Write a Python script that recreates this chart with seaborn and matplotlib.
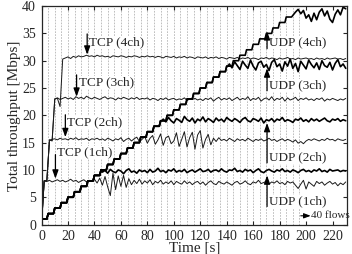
import numpy as np
import matplotlib
matplotlib.use("Agg")
import matplotlib.pyplot as plt
import seaborn as sns

# time axis of the sampled throughput (every 2 s)
t_sec = np.arange(0, 231, 2)
# one new UDP flow every 5 s (40 flows)
flow_start = np.arange(0, 200, 5)
# throughput of the UDP ramp while no channel is saturated [Mbps]
step_vals = [1.0, 2.0, 3.0, 4.0, 5.0, 6.0, 7.0, 8.0, 9.0, 10.0,
             11.0, 12.0, 13.0, 14.0, 15.0, 16.0, 17.0, 18.0, 19.0, 20.0,
             21.0, 22.0, 23.0, 24.0, 25.0, 26.0, 27.0, 28.0, 29.0, 30.0,
             31.0, 32.0, 33.0, 34.0, 35.0, 36.0, 37.0, 38.0, 39.0, 40.0]

tcp_4ch = [0.0, 8.0, 8.0, 15.5, 15.4, 23.0, 23.1, 21.6, 30.3, 30.5, 30.7, 30.4, 30.8, 30.6, 30.9, 30.7, 30.8, 31.0, 30.8, 30.9,
           30.7, 31.0, 30.8, 30.9, 30.7, 30.8, 30.6, 30.9, 30.8, 30.7, 30.9, 30.8, 30.6, 30.8, 30.7, 30.9, 30.8, 30.6, 30.8, 30.7,
           30.9, 30.7, 30.8, 30.6, 30.8, 30.7, 30.5, 30.8, 30.7, 30.6, 30.8, 30.5, 30.7, 30.6, 30.8, 30.5, 30.7, 30.6, 30.4, 30.7,
           30.6, 30.5, 30.7, 30.4, 30.6, 30.5, 30.7, 30.4, 30.6, 30.5, 30.3, 30.6, 30.5, 30.4, 30.6, 30.3, 30.5, 30.4, 30.6, 30.3,
           30.5, 30.4, 30.2, 30.5, 30.4, 30.6, 30.3, 30.5, 30.4, 30.2, 30.5, 30.3, 30.4, 30.6, 30.3, 30.4, 30.2, 30.5, 30.3, 30.4,
           30.5, 30.3, 30.4, 30.2, 30.5, 30.3, 30.4, 30.2, 30.5, 30.3, 30.4, 30.5, 30.3, 30.4, 30.2, 30.4]
tcp_3ch = [0.0, 8.0, 7.9, 15.5, 15.3, 23.0, 23.2, 22.9, 23.1, 23.3, 23.0, 23.2, 22.9, 23.4, 23.1, 23.3, 23.0, 23.5, 23.2, 23.0,
           23.3, 23.1, 22.9, 23.2, 23.4, 23.0, 23.2, 23.1, 22.8, 23.2, 23.0, 23.3, 23.1, 22.9, 23.2, 23.0, 23.3, 22.9, 23.1, 23.0,
           23.2, 22.8, 23.1, 23.0, 22.7, 23.1, 22.9, 23.2, 22.8, 23.0, 23.1, 22.8, 23.0, 22.9, 23.2, 22.7, 23.0, 22.9, 23.1, 22.8,
           23.0, 22.7, 23.1, 22.9, 23.2, 22.6, 23.0, 23.3, 22.8, 23.1, 22.9, 23.2, 22.7, 23.0, 23.3, 22.8, 23.1, 22.9, 23.4, 22.7,
           23.1, 22.9, 23.3, 22.6, 23.0, 23.2, 22.8, 23.4, 22.7, 23.1, 22.9, 23.3, 22.6, 23.2, 22.8, 23.0, 23.3, 22.7, 23.1, 22.9,
           23.2, 22.8, 23.0, 22.7, 23.1, 22.9, 23.2, 22.6, 23.0, 22.8, 23.1, 22.9, 22.7, 23.0, 22.8, 23.1]
tcp_2ch = [0.0, 8.0, 8.1, 15.4, 15.6, 15.7, 15.5, 15.8, 15.6, 15.7, 15.5, 15.8, 15.6, 15.9, 15.5, 15.7, 15.6, 15.8, 15.4, 15.7,
           15.6, 15.8, 15.5, 15.7, 15.4, 15.8, 15.6, 15.3, 15.7, 15.5, 15.9, 15.2, 15.6, 15.8, 15.3, 15.7, 16.0, 15.2, 15.6, 16.1,
           14.9, 15.8, 16.3, 14.7, 15.5, 16.6, 14.5, 15.9, 16.2, 14.8, 15.3, 16.8, 14.3, 15.6, 17.0, 14.2, 15.9, 16.9, 13.8, 16.4,
           17.2, 14.0, 15.6, 16.5, 14.6, 15.8, 15.2, 15.9, 15.4, 15.6, 15.3, 15.8, 15.5, 15.2, 15.7, 15.4, 15.6, 15.3, 15.8, 15.5,
           15.2, 15.6, 15.4, 15.7, 15.3, 15.5, 15.8, 15.4, 15.6, 15.2, 15.5, 15.7, 15.3, 15.6, 15.4, 15.1, 15.5, 14.9, 15.2, 14.8,
           15.3, 15.6, 15.4, 15.7, 15.5, 15.3, 15.6, 15.4, 15.8, 15.5, 15.6, 15.3, 15.7, 15.5, 15.4, 15.6]
tcp_1ch = [0.0, 8.0, 7.9, 8.1, 7.8, 8.0, 8.2, 7.9, 8.1, 7.8, 8.0, 8.3, 7.9, 8.1, 7.7, 8.0, 8.2, 7.8, 8.1, 7.9,
           8.3, 7.6, 8.5, 7.2, 8.8, 6.9, 5.3, 9.4, 6.4, 8.9, 7.0, 9.0, 6.8, 8.4, 7.3, 8.1, 7.5, 8.3, 7.4, 8.0,
           7.6, 8.2, 7.3, 7.9, 7.6, 8.1, 7.4, 7.8, 7.5, 8.0, 7.3, 7.9, 7.6, 7.4, 8.0, 7.5, 7.8, 7.3, 7.7, 7.9,
           7.4, 7.8, 7.2, 7.7, 8.0, 7.5, 7.3, 7.9, 7.6, 7.4, 7.8, 7.5, 7.2, 7.7, 7.9, 7.4, 7.6, 8.0, 7.5, 7.3,
           7.8, 7.6, 8.1, 7.5, 7.7, 7.9, 7.4, 7.8, 7.6, 8.0, 7.5, 7.7, 7.3, 7.9, 7.6, 7.8, 7.2, 6.6, 7.4, 8.1,
           6.5, 7.8, 7.4, 7.0, 7.9, 7.5, 7.8, 7.2, 7.6, 7.9, 7.4, 7.7, 7.1, 7.6, 7.3, 7.8]

# UDP: follows the ramp until the channels saturate, then these samples (from the given second)
udp_1ch_from = 46
udp_1ch_sat = [9.6, 9.9, 9.4, 10.1, 9.7, 9.5, 10.0, 9.8, 9.3, 9.9, 10.2, 9.6, 9.8, 9.4, 10.0, 9.7, 9.9, 9.5, 10.1, 9.6,
               9.8, 10.3, 9.7, 9.9, 9.5, 10.0, 9.8, 10.2, 9.6, 9.9, 9.7, 10.1, 9.5, 9.8, 10.0, 9.6, 9.9, 10.2, 9.7, 9.8,
               10.1, 9.6, 9.9, 10.0, 9.7, 10.2, 9.8, 9.6, 10.0, 9.9, 10.3, 9.7, 9.9, 9.6, 10.1, 9.8, 10.0, 9.5, 9.9, 10.2,
               9.7, 9.5, 9.9, 10.1, 9.8, 9.6, 10.0, 9.8, 10.2, 9.7, 9.9, 9.6, 10.0, 9.8, 9.5, 9.9, 10.1, 9.7, 9.9, 9.6,
               10.0, 9.8, 10.2, 9.7, 9.9, 9.6, 10.1, 9.8, 9.9, 10.0, 9.7, 9.9, 9.8]
udp_2ch_from = 92
udp_2ch_sat = [19.3, 18.8, 19.6, 19.0, 18.6, 19.4, 19.1, 18.7, 19.8, 19.2, 18.9, 19.5, 18.6, 19.3, 19.0, 19.7, 18.8, 19.4, 19.1, 18.7,
               19.5, 19.0, 19.3, 18.8, 19.6, 19.2, 18.9, 19.4, 19.1, 18.7, 19.3, 19.6, 19.0, 18.8, 19.4, 19.2, 18.9, 19.5, 18.6, 19.2,
               19.0, 19.4, 18.8, 19.3, 19.1, 19.6, 18.9, 19.2, 19.0, 18.7, 19.3, 19.1, 19.5, 18.9, 19.2, 18.8, 19.4, 19.0, 19.3, 18.9,
               19.2, 19.5, 19.0, 18.8, 19.3, 19.1, 19.4, 18.9, 19.2, 19.0]
udp_3ch_from = 142
udp_3ch_sat = [29.4, 28.7, 29.8, 29.1, 28.4, 29.9, 29.2, 28.6, 30.1, 29.0, 28.3, 29.6, 29.9, 28.8, 29.3, 28.2, 29.7, 30.2, 28.9, 29.4,
               28.1, 29.8, 29.0, 30.3, 28.6, 29.5, 28.0, 29.9, 29.2, 28.5, 30.1, 29.3, 28.7, 29.6, 28.4, 30.0, 29.1, 28.8, 29.7, 28.3,
               29.5, 30.2, 28.9, 29.4, 28.6]
udp_4ch_from = 190
udp_4ch_sat = [38.3, 38.9, 39.4, 38.6, 39.2, 37.8, 38.4, 37.2, 38.7, 37.5, 38.9, 39.5, 38.2, 39.1, 37.6, 37.0, 38.5, 39.3, 38.4, 39.8, 39.5]

sns.set_style("ticks")
plt.rcParams["font.family"] = ["Liberation Serif", "DejaVu Serif"]

fig = plt.figure(figsize=(3.52, 2.54), dpi=100)
ax = fig.add_axes([0.118, 0.116, 0.868, 0.86])

# dashed line each time a flow is added
for ft in flow_start[1:]:
    ax.axvline(ft, color="#b4b4b4", lw=0.6, ls=(0, (2.0, 1.5)), zorder=0)

ramp_t = np.arange(0, len(step_vals) * 5)
ramp_v = np.repeat(step_vals, 5)


def udp_line(t_from, sat):
    keep = ramp_t < t_from
    tt = np.concatenate([ramp_t[keep], np.arange(t_from, t_from + 2 * len(sat), 2)])
    vv = np.concatenate([ramp_v[keep], sat])
    return tt, vv


for vals in [tcp_1ch, tcp_2ch, tcp_3ch, tcp_4ch]:
    sns.lineplot(x=t_sec, y=vals, ax=ax, color="#1a1a1a", lw=0.7, estimator=None, sort=False)

for t_from, sat in [(udp_4ch_from, udp_4ch_sat), (udp_3ch_from, udp_3ch_sat),
                    (udp_2ch_from, udp_2ch_sat), (udp_1ch_from, udp_1ch_sat)]:
    tt, vv = udp_line(t_from, sat)
    sns.lineplot(x=tt, y=vv, ax=ax, color="black", lw=1.2, estimator=None, sort=False)

fs = 9.5
arrow = dict(arrowstyle="-|>,head_length=0.5,head_width=0.18", color="black", lw=0.9, shrinkA=0, shrinkB=0)
box = dict(facecolor="white", edgecolor="none", pad=0.3)

# TCP labels (arrow pointing down)
for label, ax_x, y0, y1, tx, ty in [("TCP (4ch)", 34.5, 34.9, 31.1, 36.0, 33.3),
                                     ("TCP (3ch)", 26.5, 27.4, 23.4, 28.0, 26.0),
                                     ("TCP (2ch)", 18.0, 20.1, 16.0, 19.5, 18.7),
                                     ("TCP (1ch)", 10.5, 12.8, 8.4, 12.0, 13.2)]:
    ax.text(tx, ty, label, fontsize=fs, va="center", ha="left", bbox=box, zorder=3)
    ax.annotate("", xy=(ax_x, y1), xytext=(ax_x, y0), arrowprops=arrow, zorder=4)

# UDP labels (arrow pointing up)
for label, y0, y1, ty in [("UDP (4ch)", 32.2, 35.4, 33.3),
                          ("UDP (3ch)", 24.5, 28.6, 25.5),
                          ("UDP (2ch)", 11.3, 18.6, 12.3),
                          ("UDP (1ch)", 3.3, 9.0, 4.2)]:
    ax.text(172.0, ty, label, fontsize=fs, va="center", ha="left", bbox=box, zorder=3)
    ax.annotate("", xy=(170.5, y1), xytext=(170.5, y0), arrowprops=arrow, zorder=4)

ax.annotate("", xy=(203.5, 1.6), xytext=(196.0, 1.6),
            arrowprops=dict(arrowstyle="-|>,head_length=0.4,head_width=0.15", color="black", lw=0.8,
                            shrinkA=0, shrinkB=0))
ax.text(203.8, 1.6, "40 flows", fontsize=8, va="center", ha="left")

ax.set_xlim(0, 231)
ax.set_ylim(0, 40)
ax.set_xticks(range(0, 221, 20))
ax.set_yticks(range(0, 41, 5))
ax.tick_params(direction="in", length=3, width=0.8, labelsize=10, top=True, right=True, pad=4)
for s in ax.spines.values():
    s.set_linewidth(0.9)
    s.set_visible(True)
ax.set_xlabel("Time [s]", fontsize=11, labelpad=-1)
ax.set_ylabel("Total throughput [Mbps]", fontsize=11, labelpad=1)

fig.savefig("out.png", dpi=100)
